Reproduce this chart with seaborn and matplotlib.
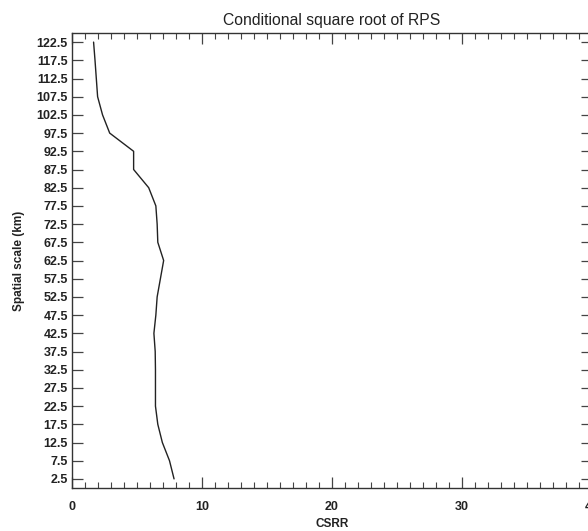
import matplotlib
matplotlib.use("Agg")
import matplotlib.pyplot as plt
import seaborn as sns
import numpy as np
import pandas as pd
from matplotlib.ticker import MultipleLocator, FixedLocator

scale_km = [2.5, 7.5, 12.5, 17.5, 22.5, 27.5, 32.5, 37.5, 42.5, 47.5, 52.5, 57.5,
            62.5, 67.5, 72.5, 77.5, 82.5, 87.5, 92.5, 97.5, 102.5, 107.5, 112.5,
            117.5, 122.5]
csrr = [7.85, 7.5, 6.95, 6.6, 6.42, 6.42, 6.42, 6.4, 6.3, 6.45, 6.55, 6.8,
        7.05, 6.6, 6.55, 6.45, 5.9, 4.74, 4.74, 2.9, 2.35, 1.97, 1.87,
        1.77, 1.66]
x_ticks = [0, 10, 20, 30, 40]
y_tick_labels = [f"{v:.1f}" for v in scale_km]

df = pd.DataFrame({"CSRR": csrr, "scale": scale_km})

sns.set_theme(style="white")
plt.rcParams['font.family'] = ['Liberation Sans', 'DejaVu Sans']

fig = plt.figure(figsize=(5.88, 5.31), dpi=100)
ax = fig.add_axes([72/588, 1 - 488/531, (592 - 72)/588, (488 - 33)/531])

sns.lineplot(data=df, x="CSRR", y="scale", sort=False, estimator=None,
             color="#222222", linewidth=1.0, ax=ax)

ax.set_xlim(0, 40)
ax.set_ylim(0, 125)
ax.xaxis.set_major_locator(FixedLocator(x_ticks))
ax.xaxis.set_minor_locator(MultipleLocator(1))
ax.yaxis.set_major_locator(FixedLocator(scale_km))
ax.set_yticklabels(y_tick_labels)
ax.set_xticklabels([str(t) for t in x_ticks])

ax.tick_params(axis="both", which="major", direction="in", length=8, width=0.9,
               color="#444444", labelsize=9, top=True, right=True, bottom=True, left=True)
ax.tick_params(axis="x", which="minor", direction="in", length=4, width=0.8,
               color="#444444", top=True, bottom=True)
ax.tick_params(axis="x", which="major", pad=9)
ax.tick_params(axis="y", which="major", pad=3)
for lab in ax.get_xticklabels() + ax.get_yticklabels():
    lab.set_fontweight("bold")
    lab.set_color("#222222")

for s in ax.spines.values():
    s.set_visible(True)
    s.set_color("#333333")
    s.set_linewidth(1.0)

ax.set_title("Conditional square root of RPS", fontsize=11.3, color="#222222", pad=6)
ax.set_xlabel("CSRR", fontsize=8.5, fontweight="bold", color="#222222", labelpad=4)
ax.set_ylabel("Spatial scale (km)", fontsize=8.5, fontweight="bold", color="#222222", labelpad=8)

fig.savefig("out.png", dpi=100)
